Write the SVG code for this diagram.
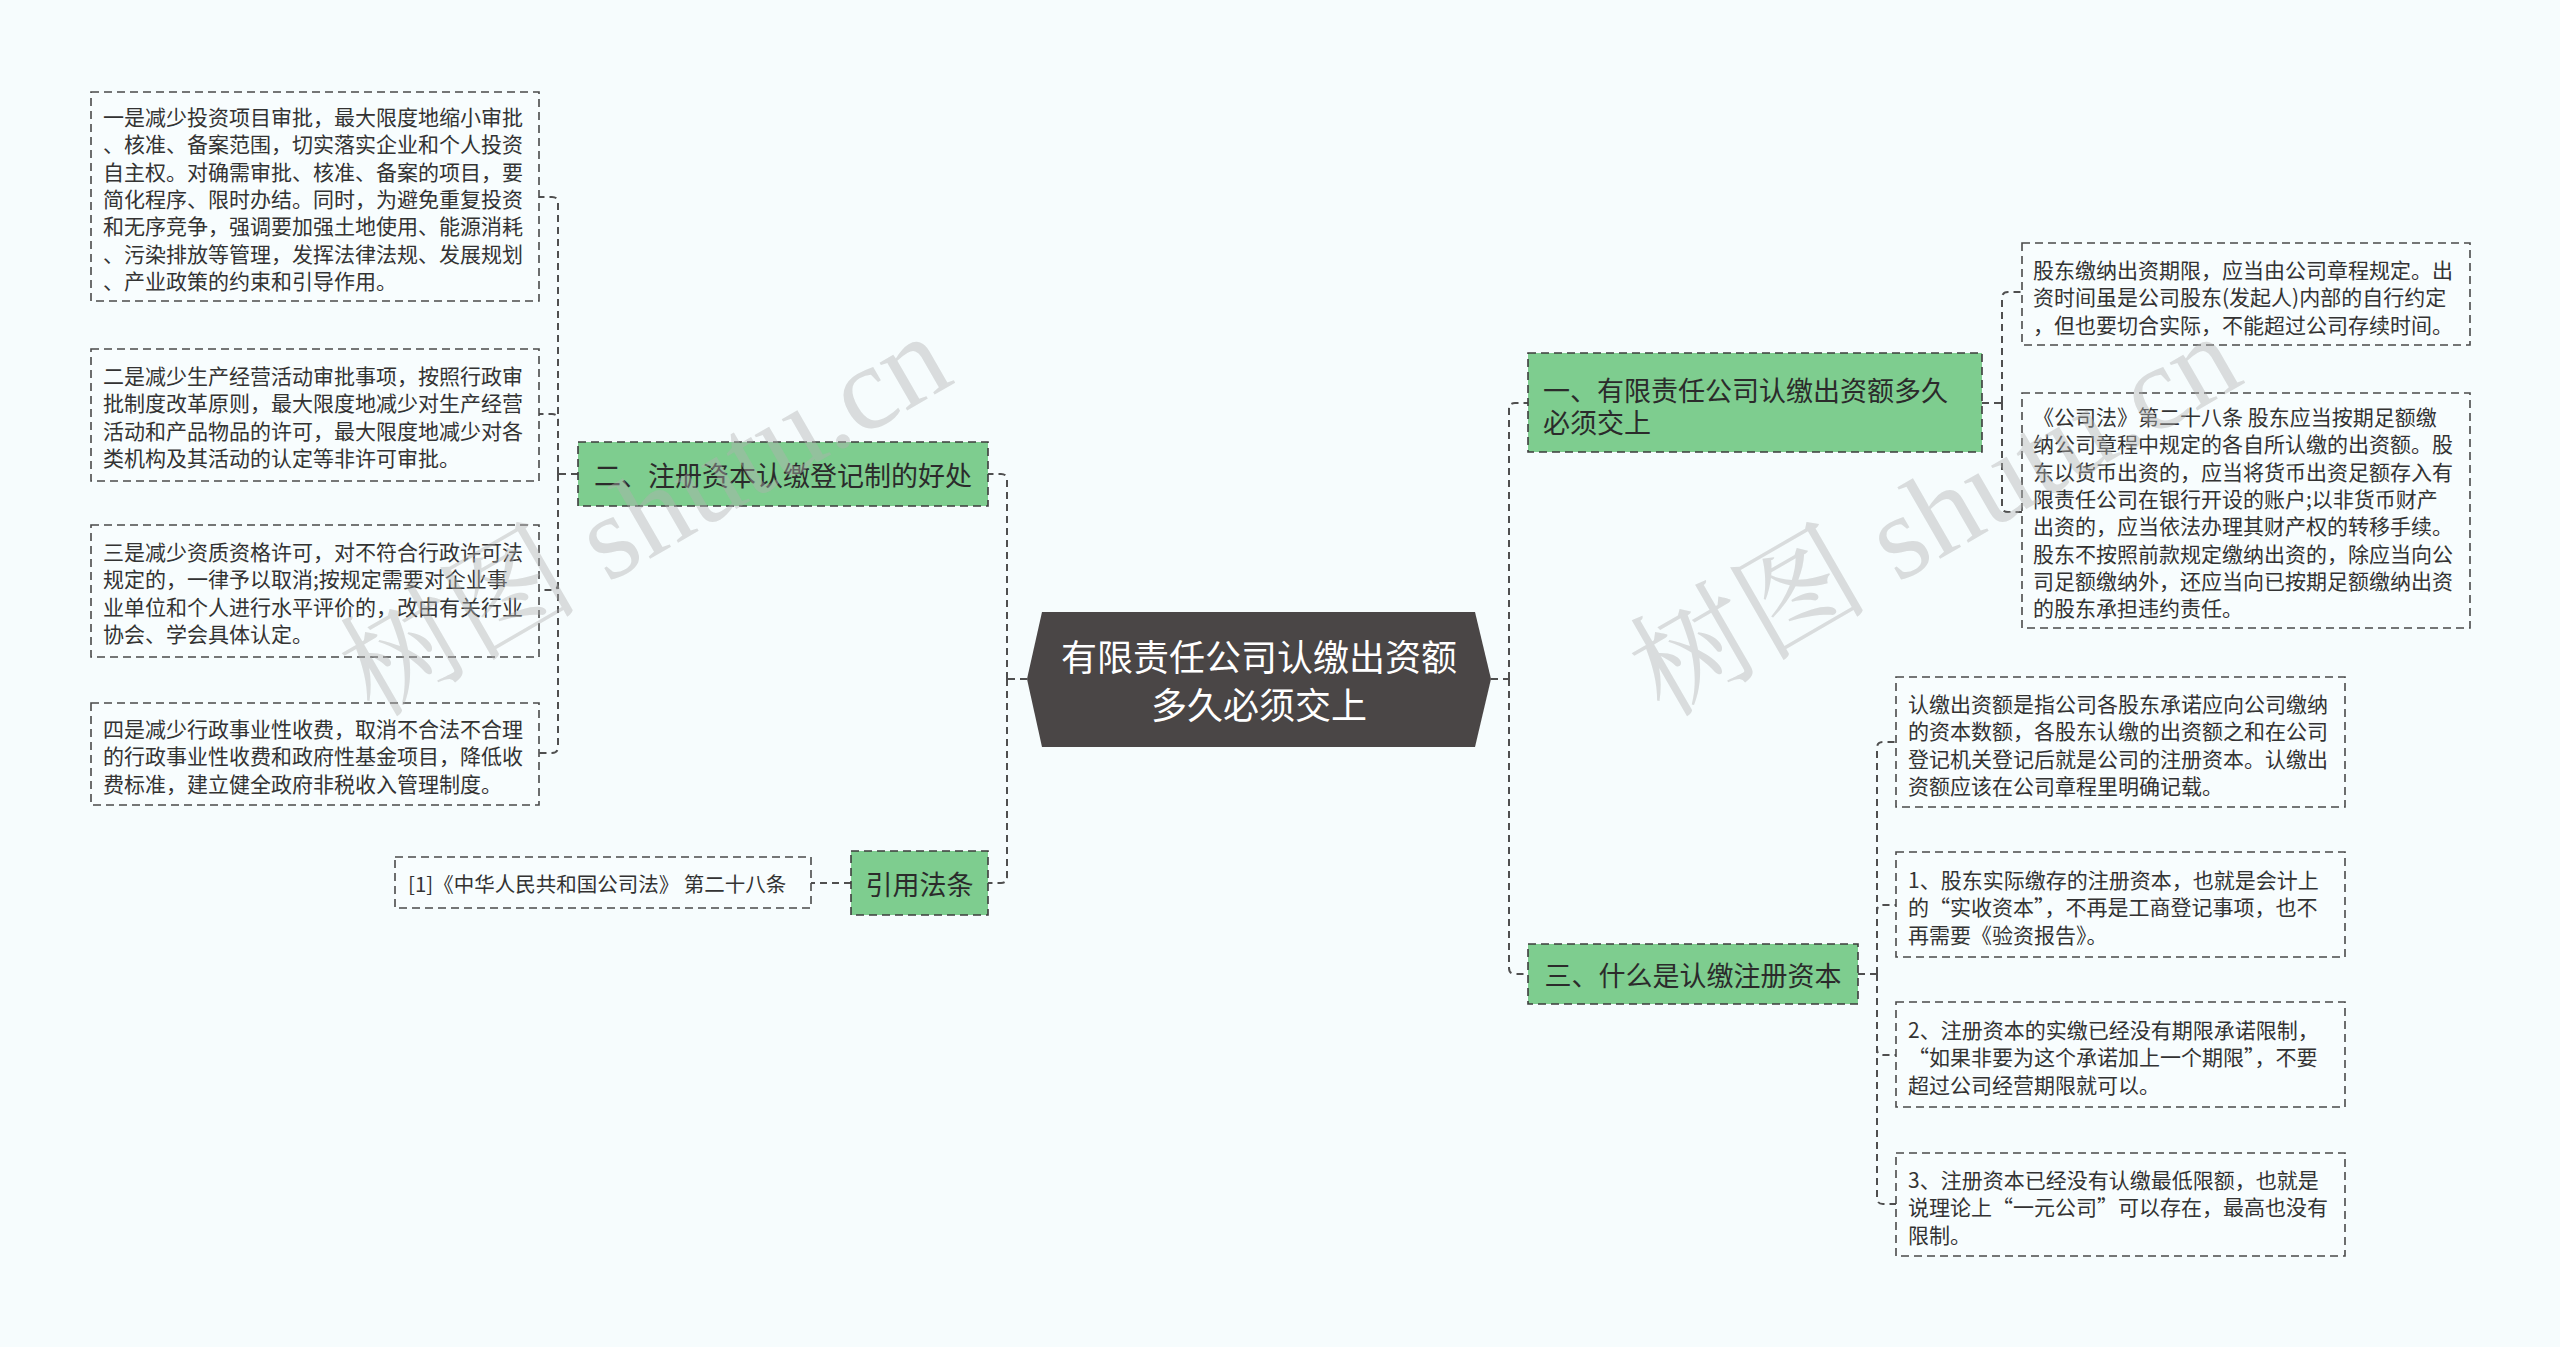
<svg xmlns="http://www.w3.org/2000/svg" width="2560" height="1347" viewBox="0 0 2560 1347">
<style>
.bg{fill:#f6fcfd}
.leaf{fill:#f8fdfe;stroke:#4a4a4a;stroke-width:1.6;stroke-dasharray:8 5}
.sub{fill:#7ecd8f;stroke:#3d3d3d;stroke-width:1.6;stroke-dasharray:8 5}
.root{fill:#4a4646}
.lt{font-family:"Noto Sans CJK SC","Noto Sans",sans-serif;font-size:21px;fill:#333333;dominant-baseline:central}
.st{font-family:"Noto Sans CJK SC","Noto Sans",sans-serif;font-size:27px;fill:#2b2b2b;dominant-baseline:central}
.rt{font-family:"Noto Sans CJK SC","Noto Sans",sans-serif;font-size:36px;fill:#ffffff;dominant-baseline:central;text-anchor:middle}
.conn path{fill:none;stroke:#4f4f4f;stroke-width:2;stroke-dasharray:7 5}
.wm{font-family:"Liberation Serif","Noto Serif CJK SC","Noto Sans CJK SC",serif;font-size:120px;fill:#b0b0b0;fill-opacity:0.42}
</style>
<rect class="bg" x="0" y="0" width="2560" height="1347"/>

<g id="connectors" class="conn">
<path d="M1027,679 H1007"/>
<path d="M1007,679 V480 Q1007,474 1001,474 H988"/>
<path d="M1007,679 V877 Q1007,883 1001,883 H988"/>
<path d="M578,474 H558"/>
<path d="M558,474 V203 Q558,197 552,197 H539"/>
<path d="M558,474 V420 Q558,414 552,414 H539"/>
<path d="M558,474 V584 Q558,590 552,590 H539"/>
<path d="M558,474 V747 Q558,753 552,753 H539"/>
<path d="M851,883 H811"/>
<path d="M1491,679 H1509"/>
<path d="M1509,679 V409 Q1509,403 1515,403 H1528"/>
<path d="M1509,679 V968 Q1509,974 1515,974 H1528"/>
<path d="M1982,403 H2002"/>
<path d="M2002,403 V298 Q2002,292 2008,292 H2022"/>
<path d="M2002,403 V506 Q2002,512 2008,512 H2022"/>
<path d="M1858,974 H1877"/>
<path d="M1877,974 V748 Q1877,742 1883,742 H1896"/>
<path d="M1877,974 V911 Q1877,905 1883,905 H1896"/>
<path d="M1877,974 V1049 Q1877,1055 1883,1055 H1896"/>
<path d="M1877,974 V1198 Q1877,1204 1883,1204 H1896"/>
</g>

<g id="root">
<polygon class="root" points="1027,679 1042,612 1475,612 1491,679 1475,747 1042,747"/>
<text class="rt" x="1259" y="655">有限责任公司认缴出资额</text>
<text class="rt" x="1259" y="703">多久必须交上</text>
</g>

<g id="n2">
<rect class="sub" x="578" y="442" width="410" height="64"/>
<text class="st" x="783" y="474" text-anchor="middle">二、注册资本认缴登记制的好处</text>
</g>

<g id="n2a">
<rect class="leaf" x="91" y="92" width="448" height="209"/>
<text class="lt" x="103" y="116">一是减少投资项目审批，最大限度地缩小审批</text>
<text class="lt" x="103" y="143.3">、核准、备案范围，切实落实企业和个人投资</text>
<text class="lt" x="103" y="170.6">自主权。对确需审批、核准、备案的项目，要</text>
<text class="lt" x="103" y="197.9">简化程序、限时办结。同时，为避免重复投资</text>
<text class="lt" x="103" y="225.2">和无序竞争，强调要加强土地使用、能源消耗</text>
<text class="lt" x="103" y="252.5">、污染排放等管理，发挥法律法规、发展规划</text>
<text class="lt" x="103" y="279.8">、产业政策的约束和引导作用。</text>
</g>

<g id="n2b">
<rect class="leaf" x="91" y="349" width="448" height="132"/>
<text class="lt" x="103" y="375">二是减少生产经营活动审批事项，按照行政审</text>
<text class="lt" x="103" y="402.3">批制度改革原则，最大限度地减少对生产经营</text>
<text class="lt" x="103" y="429.6">活动和产品物品的许可，最大限度地减少对各</text>
<text class="lt" x="103" y="456.9">类机构及其活动的认定等非许可审批。</text>
</g>

<g id="n2c">
<rect class="leaf" x="91" y="525" width="448" height="132"/>
<text class="lt" x="103" y="551">三是减少资质资格许可，对不符合行政许可法</text>
<text class="lt" x="103" y="578.3">规定的，一律予以取消;按规定需要对企业事</text>
<text class="lt" x="103" y="605.6">业单位和个人进行水平评价的，改由有关行业</text>
<text class="lt" x="103" y="632.9">协会、学会具体认定。</text>
</g>

<g id="n2d">
<rect class="leaf" x="91" y="703" width="448" height="102"/>
<text class="lt" x="103" y="728">四是减少行政事业性收费，取消不合法不合理</text>
<text class="lt" x="103" y="755.3">的行政事业性收费和政府性基金项目，降低收</text>
<text class="lt" x="103" y="782.6">费标准，建立健全政府非税收入管理制度。</text>
</g>

<g id="n4">
<rect class="sub" x="851" y="851" width="137" height="64"/>
<text class="st" x="919.5" y="883" text-anchor="middle">引用法条</text>
</g>

<g id="n4a">
<rect class="leaf" x="395" y="857" width="416" height="51"/>
<text class="lt" x="408" y="883" style="font-size:20.5px">[1]《中华人民共和国公司法》 第二十八条</text>
</g>

<g id="n1">
<rect class="sub" x="1528" y="353" width="454" height="99"/>
<text class="st" x="1543" y="389">一、有限责任公司认缴出资额多久</text>
<text class="st" x="1543" y="421">必须交上</text>
</g>

<g id="n1a">
<rect class="leaf" x="2022" y="243" width="448" height="102"/>
<text class="lt" x="2033" y="269">股东缴纳出资期限，应当由公司章程规定。出</text>
<text class="lt" x="2033" y="296.3">资时间虽是公司股东(发起人)内部的自行约定</text>
<text class="lt" x="2033" y="323.6">，但也要切合实际，不能超过公司存续时间。</text>
</g>

<g id="n1b">
<rect class="leaf" x="2022" y="393" width="448" height="235"/>
<text class="lt" x="2033" y="416">《公司法》第二十八条 股东应当按期足额缴</text>
<text class="lt" x="2033" y="443.3">纳公司章程中规定的各自所认缴的出资额。股</text>
<text class="lt" x="2033" y="470.6">东以货币出资的，应当将货币出资足额存入有</text>
<text class="lt" x="2033" y="497.9">限责任公司在银行开设的账户;以非货币财产</text>
<text class="lt" x="2033" y="525.2">出资的，应当依法办理其财产权的转移手续。</text>
<text class="lt" x="2033" y="552.5">股东不按照前款规定缴纳出资的，除应当向公</text>
<text class="lt" x="2033" y="579.8">司足额缴纳外，还应当向已按期足额缴纳出资</text>
<text class="lt" x="2033" y="607.1">的股东承担违约责任。</text>
</g>

<g id="n3">
<rect class="sub" x="1528" y="944" width="330" height="60"/>
<text class="st" x="1693" y="974" text-anchor="middle">三、什么是认缴注册资本</text>
</g>

<g id="n3a">
<rect class="leaf" x="1896" y="677" width="449" height="130"/>
<text class="lt" x="1908" y="703">认缴出资额是指公司各股东承诺应向公司缴纳</text>
<text class="lt" x="1908" y="730.3">的资本数额，各股东认缴的出资额之和在公司</text>
<text class="lt" x="1908" y="757.6">登记机关登记后就是公司的注册资本。认缴出</text>
<text class="lt" x="1908" y="784.9">资额应该在公司章程里明确记载。</text>
</g>

<g id="n3b">
<rect class="leaf" x="1896" y="852" width="449" height="105"/>
<text class="lt" x="1908" y="879">1、股东实际缴存的注册资本，也就是会计上</text>
<text class="lt" x="1908" y="906.3">的“实收资本”，不再是工商登记事项，也不</text>
<text class="lt" x="1908" y="933.6">再需要《验资报告》。</text>
</g>

<g id="n3c">
<rect class="leaf" x="1896" y="1002" width="449" height="105"/>
<text class="lt" x="1908" y="1029">2、注册资本的实缴已经没有期限承诺限制，</text>
<text class="lt" x="1908" y="1056.3">“如果非要为这个承诺加上一个期限”，不要</text>
<text class="lt" x="1908" y="1083.6">超过公司经营期限就可以。</text>
</g>

<g id="n3d">
<rect class="leaf" x="1896" y="1153" width="449" height="103"/>
<text class="lt" x="1908" y="1179">3、注册资本已经没有认缴最低限额，也就是</text>
<text class="lt" x="1908" y="1206.3">说理论上“一元公司”可以存在，最高也没有</text>
<text class="lt" x="1908" y="1233.6">限制。</text>
</g>

<g id="watermarks">
<text class="wm" x="645" y="515" text-anchor="middle" dominant-baseline="central" transform="rotate(-30 645 515)">树图 shutu.cn</text>
<text class="wm" x="1935" y="515" text-anchor="middle" dominant-baseline="central" transform="rotate(-30 1935 515)">树图 shutu.cn</text>
</g>
</svg>
